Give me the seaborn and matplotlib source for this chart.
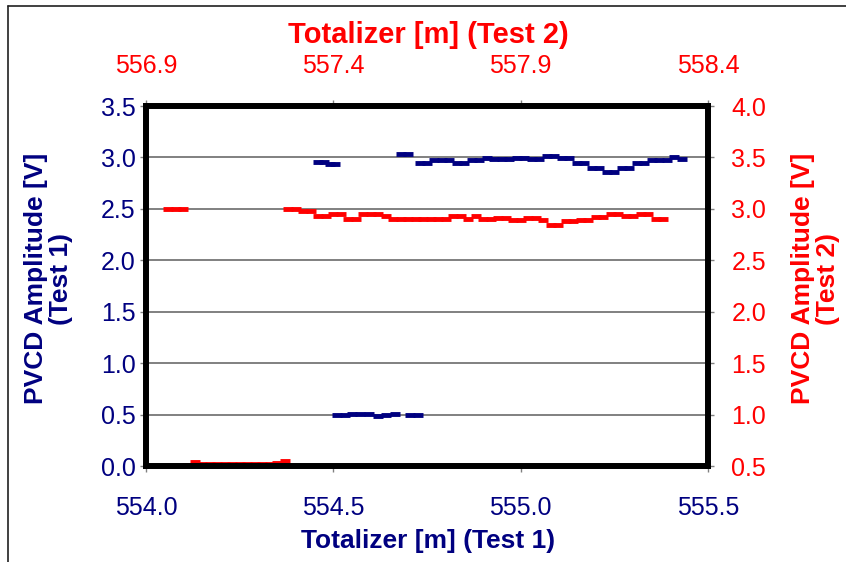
import matplotlib
matplotlib.use("Agg")
import matplotlib.pyplot as plt
from matplotlib.lines import Line2D
from matplotlib.ticker import FixedLocator, FormatStrFormatter
import seaborn as sns

# ---- Test 1: totalizer [m] vs PVCD amplitude [V] ----
t1_high_x = [554.46, 554.475, 554.49, 554.505,
             554.68, 554.70,
             554.73, 554.75, 554.77, 554.79, 554.81, 554.83, 554.85, 554.87,
             554.89, 554.91, 554.93, 554.95, 554.97, 554.99, 555.01, 555.03,
             555.05, 555.07, 555.09, 555.11, 555.13, 555.15, 555.17, 555.19,
             555.21, 555.23, 555.25, 555.27, 555.29, 555.31, 555.33, 555.35,
             555.37, 555.39, 555.41, 555.43]
t1_high_v = [2.96, 2.96, 2.935, 2.935,
             3.035, 3.035,
             2.95, 2.95, 2.975, 2.975, 2.975, 2.95, 2.95, 2.975,
             2.975, 2.99, 2.98, 2.985, 2.98, 2.99, 2.99, 2.985,
             2.98, 3.01, 3.01, 2.99, 2.99, 2.945, 2.945, 2.895,
             2.895, 2.855, 2.855, 2.90, 2.90, 2.95, 2.95, 2.975,
             2.975, 2.975, 3.0, 2.98]

t1_low_x = [554.51, 554.53, 554.55, 554.57, 554.595, 554.62, 554.64, 554.665,
            554.705, 554.725]
t1_low_v = [0.50, 0.50, 0.51, 0.51, 0.505, 0.49, 0.50, 0.51,
            0.50, 0.50]

# ---- Test 2: totalizer [m] vs PVCD amplitude [V] ----
t2_high_x = [556.96, 556.98, 557.00,
             557.28, 557.30, 557.32, 557.34, 557.36, 557.38, 557.40, 557.42,
             557.44, 557.46, 557.48, 557.50, 557.52, 557.54, 557.56, 557.58,
             557.60, 557.62, 557.64, 557.66, 557.68, 557.70, 557.72, 557.74,
             557.76, 557.78, 557.80, 557.82, 557.84, 557.86, 557.88, 557.90,
             557.92, 557.94, 557.96, 557.98, 558.00, 558.02, 558.04, 558.06,
             558.08, 558.10, 558.12, 558.14, 558.16, 558.18, 558.20, 558.22,
             558.24, 558.26, 558.28]
t2_high_v = [3.00, 3.00, 3.00,
             3.00, 3.00, 2.977, 2.977, 2.928, 2.928, 2.954, 2.954,
             2.905, 2.905, 2.954, 2.954, 2.954, 2.928, 2.905, 2.905,
             2.905, 2.905, 2.905, 2.905, 2.905, 2.905, 2.928, 2.928,
             2.905, 2.93, 2.905, 2.905, 2.91, 2.91, 2.896, 2.896,
             2.91, 2.91, 2.89, 2.847, 2.847, 2.88, 2.88, 2.896,
             2.896, 2.92, 2.92, 2.954, 2.954, 2.935, 2.935, 2.954,
             2.954, 2.905, 2.905]

t2_low_x = [557.01, 557.03, 557.05, 557.07, 557.09, 557.11, 557.13, 557.15,
            557.17, 557.19, 557.21, 557.23, 557.25, 557.27]
t2_low_v = [0.51, 0.54, 0.52, 0.52, 0.52, 0.52, 0.52, 0.52,
            0.52, 0.52, 0.52, 0.52, 0.525, 0.545]

# ---- axis ticks ----
x1_ticks = [554.0, 554.5, 555.0, 555.5]
x2_ticks = [556.9, 557.4, 557.9, 558.4]
y1_ticks = [0.0, 0.5, 1.0, 1.5, 2.0, 2.5, 3.0, 3.5]
y2_ticks = [0.5, 1.0, 1.5, 2.0, 2.5, 3.0, 3.5, 4.0]

NAVY = "#000080"
RED = "#FF0000"
GRID = "#808080"

sns.set_theme(style="white")
plt.rcParams["font.family"] = ["Liberation Sans", "DejaVu Sans"]

W, H = 846, 562
fig = plt.figure(figsize=(W / 100, H / 100), dpi=100)
fig.patch.set_facecolor("white")

rect = [146 / W, 1 - 466 / H, 562 / W, 360 / H]
# Test 2 axes sits underneath and carries the grid; Test 1 axes on top is transparent
ax2 = fig.add_axes(rect, frameon=False)
ax = fig.add_axes(rect)
ax.patch.set_visible(False)
ax2.set_zorder(1)
ax.set_zorder(2)

mk = dict(marker="_", s=55, linewidth=3.5, legend=False)
sns.scatterplot(x=t1_high_x, y=t1_high_v, color=NAVY, ax=ax, **mk)
sns.scatterplot(x=t1_low_x, y=t1_low_v, color=NAVY, ax=ax, **mk)
sns.scatterplot(x=t2_high_x, y=t2_high_v, color=RED, ax=ax2, **mk)
sns.scatterplot(x=t2_low_x, y=t2_low_v, color=RED, ax=ax2, **mk)

# limits
ax.set_xlim(x1_ticks[0], x1_ticks[-1])
ax.set_ylim(y1_ticks[0], y1_ticks[-1])
ax2.set_xlim(x2_ticks[0], x2_ticks[-1])
ax2.set_ylim(y2_ticks[0], y2_ticks[-1])

ax.xaxis.set_major_locator(FixedLocator(x1_ticks))
ax.yaxis.set_major_locator(FixedLocator(y1_ticks))
ax2.xaxis.set_major_locator(FixedLocator(x2_ticks))
ax2.yaxis.set_major_locator(FixedLocator(y2_ticks))
for a in (ax.xaxis, ax.yaxis, ax2.xaxis, ax2.yaxis):
    a.set_major_formatter(FormatStrFormatter("%.1f"))

# horizontal gridlines
ax2.set_axisbelow(True)
ax2.yaxis.grid(True, color=GRID, linewidth=1.4)
ax2.xaxis.grid(False)
ax.grid(False)

# thick plot frame
for s in ax.spines.values():
    s.set_visible(True)
    s.set_color("black")
    s.set_linewidth(4.3)

tick_len = 6 / 1.389
ax.tick_params(axis="both", which="major", direction="out", length=tick_len,
               width=1, color=GRID, labelsize=18, labelcolor=NAVY,
               top=False, right=False, bottom=True, left=True)
ax.tick_params(axis="x", pad=17)
ax.tick_params(axis="y", pad=3)

ax2.xaxis.tick_top()
ax2.yaxis.tick_right()
ax2.tick_params(axis="both", which="major", direction="out", length=tick_len,
                width=1, color=GRID, labelsize=18, labelcolor=RED)
ax2.tick_params(axis="x", pad=16)
ax2.tick_params(axis="y", pad=12.5)

# axis titles
ax.set_xlabel("Totalizer [m] (Test 1)", fontsize=19, fontweight="bold",
              color=NAVY)
ax.xaxis.set_label_coords(0.502, -0.208)
ax.xaxis.label.set_va("center")

ax.set_ylabel("PVCD Amplitude [V]\n(Test 1)", fontsize=19, fontweight="bold",
              color=NAVY, linespacing=1.05)
ax.yaxis.set_label_coords(-0.174, 0.52)
ax.yaxis.label.set_va("center")

ax2.xaxis.set_label_position("top")
ax2.set_xlabel("Totalizer [m] (Test 2)", fontsize=21, fontweight="bold",
               color=RED)
ax2.xaxis.set_label_coords(0.502, 1.197)
ax2.xaxis.label.set_va("center")

ax2.yaxis.set_label_position("right")
ax2.set_ylabel("PVCD Amplitude [V]\n(Test 2)", fontsize=19, fontweight="bold",
               color=RED, linespacing=1.05, rotation=90)
ax2.yaxis.set_label_coords(1.191, 0.52)
ax2.yaxis.label.set_va("center")

# outer chart border (top and left edges)
fig.add_artist(Line2D([8 / W, 8 / W], [0, 1 - 6 / H], transform=fig.transFigure,
                      color="#202020", linewidth=1.2))
fig.add_artist(Line2D([8 / W, 1], [1 - 6 / H, 1 - 6 / H], transform=fig.transFigure,
                      color="#202020", linewidth=1.2))

fig.savefig("out.png", dpi=100, facecolor="white")
